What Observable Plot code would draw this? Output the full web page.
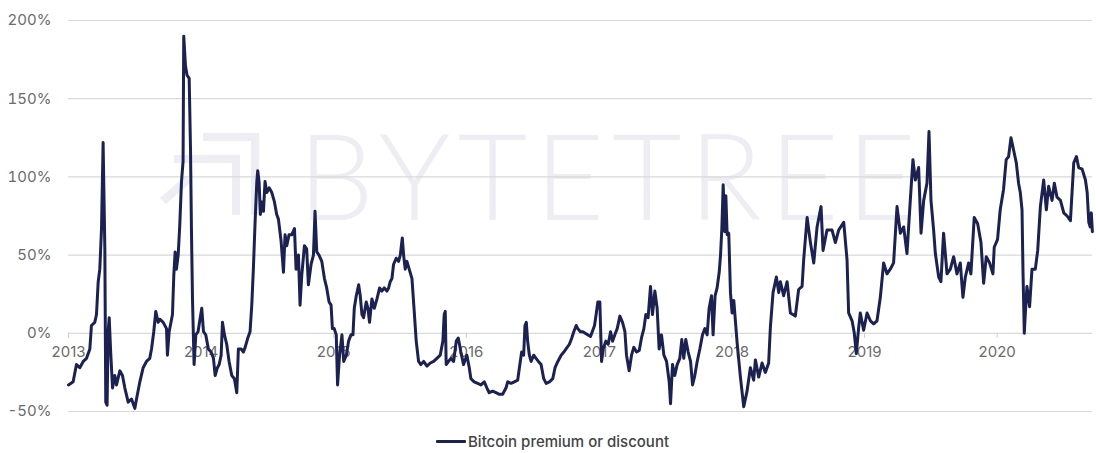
<!DOCTYPE html>
<html>
<head>
<meta charset="utf-8">
<script src="https://cdn.jsdelivr.net/npm/d3@7"></script>
<script src="https://cdn.jsdelivr.net/npm/@observablehq/plot@0.6"></script>
<style>
  body { margin: 0; background: #ffffff; font-family: Inter, "Noto Sans", sans-serif; }
  #chart { width: 1096px; height: 420px; }
  #legend { display: flex; align-items: center; height: 24px; margin-top: 9px; margin-left: 436px; }
  #legend .sw { width: 30px; height: 3px; background: #1b2150; border-radius: 1px; }
  #legend .lb { margin-left: 2px; font-size: 15px; font-weight: 500; color: #444444; }
</style>
</head>
<body>
<div id="chart"></div>
<div id="legend"><span class="sw"></span><span class="lb" id="legendLabel"></span></div>
<script>
// Each pair: [fraction of the year, premium (%)]
const y2013 = [[0.000,-33],[0.035,-31],[0.060,-20],[0.085,-22],[0.111,-18],[0.136,-16],[0.161,-10],[0.173,5],[0.198,7],[0.211,12],[0.224,33],[0.236,41],[0.249,67],[0.261,122],[0.274,54],[0.281,-44],[0.291,-46],[0.299,1],[0.307,10],[0.317,-10],[0.332,-35],[0.349,-27],[0.362,-33],[0.387,-24],[0.407,-27],[0.425,-35],[0.450,-44],[0.475,-42],[0.500,-48],[0.513,-42],[0.538,-31],[0.563,-22],[0.588,-18],[0.613,-16],[0.626,-10],[0.643,1],[0.658,14],[0.676,7],[0.688,9],[0.714,7],[0.739,3],[0.746,-14],[0.759,1],[0.784,12],[0.794,37],[0.804,52],[0.814,41],[0.827,50],[0.839,69],[0.852,97],[0.864,110],[0.869,190],[0.882,171],[0.894,165],[0.910,163],[0.920,118],[0.927,67],[0.935,22],[0.947,-20],[0.960,-1],[0.977,1],[0.988,7]];
const y2014 = [[0.005,16],[0.018,1],[0.035,-1],[0.055,-10],[0.075,-12],[0.093,-16],[0.106,-27],[0.123,-22],[0.136,-20],[0.151,-14],[0.161,7],[0.176,-1],[0.193,-7],[0.211,-18],[0.231,-27],[0.251,-29],[0.269,-38],[0.281,-10],[0.302,-10],[0.319,-12],[0.332,-9],[0.352,-3],[0.369,1],[0.382,18],[0.394,41],[0.407,71],[0.420,97],[0.427,104],[0.437,97],[0.447,76],[0.457,84],[0.470,78],[0.482,97],[0.495,90],[0.513,93],[0.533,90],[0.553,84],[0.570,76],[0.583,73],[0.603,59],[0.621,39],[0.633,63],[0.646,56],[0.663,63],[0.683,63],[0.704,67],[0.716,41],[0.734,50],[0.746,18],[0.759,37],[0.779,56],[0.796,54],[0.809,31],[0.829,44],[0.847,50],[0.859,78],[0.872,52],[0.889,50],[0.910,46],[0.930,35],[0.947,29],[0.965,20],[0.980,18],[0.990,3]];
const y2015 = [[0.004,3],[0.019,-1],[0.029,-33],[0.044,-14],[0.062,-1],[0.075,-18],[0.095,-14],[0.112,-5],[0.130,-1],[0.145,-1],[0.155,16],[0.170,24],[0.188,31],[0.200,24],[0.213,12],[0.225,10],[0.245,20],[0.258,16],[0.270,7],[0.288,22],[0.306,16],[0.326,22],[0.346,29],[0.363,27],[0.381,29],[0.401,27],[0.414,29],[0.426,33],[0.439,35],[0.451,44],[0.471,48],[0.489,46],[0.502,50],[0.517,61],[0.527,50],[0.539,41],[0.552,46],[0.569,41],[0.590,35],[0.607,14],[0.622,-5],[0.640,-18],[0.657,-20],[0.678,-18],[0.703,-21],[0.728,-19],[0.753,-18],[0.778,-16],[0.803,-14],[0.823,-5],[0.833,12],[0.841,14],[0.848,-20],[0.866,-18],[0.884,-16],[0.904,-18],[0.924,-5],[0.939,-3],[0.959,-12],[0.979,-20]];
const y2016 = [[0.004,-14],[0.022,-22],[0.034,-29],[0.059,-31],[0.085,-32],[0.110,-33],[0.135,-31],[0.155,-35],[0.172,-38],[0.198,-37],[0.223,-38],[0.248,-39],[0.273,-39],[0.298,-35],[0.311,-31],[0.336,-32],[0.361,-31],[0.386,-30],[0.399,-22],[0.416,-12],[0.431,-14],[0.441,5],[0.451,7],[0.461,-5],[0.474,-14],[0.487,-18],[0.507,-14],[0.524,-16],[0.542,-18],[0.562,-20],[0.582,-29],[0.600,-32],[0.625,-31],[0.650,-29],[0.667,-22],[0.688,-18],[0.713,-14],[0.733,-12],[0.750,-10],[0.775,-7],[0.793,-3],[0.808,1],[0.826,5],[0.838,3],[0.858,1],[0.876,1],[0.894,0],[0.914,-1],[0.934,-2],[0.951,2],[0.964,5],[0.976,12],[0.989,20]];
const y2017 = [[0.004,20],[0.017,-18],[0.029,-10],[0.049,-5],[0.067,-7],[0.085,1],[0.100,-5],[0.117,-1],[0.135,3],[0.155,11],[0.175,7],[0.193,1],[0.205,-14],[0.225,-24],[0.243,-14],[0.260,-9],[0.281,-12],[0.301,-11],[0.318,-3],[0.336,3],[0.351,12],[0.368,10],[0.386,30],[0.401,12],[0.419,27],[0.436,16],[0.451,-10],[0.469,-1],[0.487,-14],[0.507,-18],[0.527,-31],[0.537,-45],[0.552,-20],[0.569,-27],[0.587,-20],[0.607,-16],[0.622,-4],[0.637,-16],[0.652,-4],[0.670,-12],[0.688,-18],[0.703,-33],[0.720,-27],[0.738,-18],[0.758,-10],[0.778,-1],[0.796,3],[0.813,-1],[0.828,16],[0.846,24],[0.858,-1],[0.873,24],[0.888,29],[0.904,39],[0.914,50],[0.924,67],[0.934,95],[0.946,65],[0.954,88],[0.964,63],[0.976,64],[0.989,26]];
const y2018 = [[0.001,13],[0.014,21],[0.039,-6],[0.064,-28],[0.089,-47],[0.114,-37],[0.139,-22],[0.164,-30],[0.177,-17],[0.202,-28],[0.227,-19],[0.252,-25],[0.277,-19],[0.290,4],[0.310,26],[0.335,36],[0.353,26],[0.365,33],[0.390,24],[0.416,33],[0.441,13],[0.478,11],[0.503,28],[0.529,30],[0.541,47],[0.567,74],[0.592,58],[0.617,45],[0.642,68],[0.672,81],[0.687,53],[0.717,66],[0.755,66],[0.780,58],[0.805,66],[0.843,71],[0.868,47],[0.880,13],[0.906,8],[0.923,0],[0.938,-13],[0.956,4],[0.968,13],[0.993,2]];
const y2019 = [[0.019,13],[0.044,8],[0.069,6],[0.094,8],[0.119,23],[0.144,45],[0.169,38],[0.194,41],[0.219,45],[0.245,81],[0.270,64],[0.295,68],[0.320,51],[0.345,85],[0.365,111],[0.383,98],[0.408,106],[0.426,64],[0.446,85],[0.471,96],[0.486,129],[0.501,85],[0.521,66],[0.534,51],[0.559,36],[0.576,33],[0.596,64],[0.622,38],[0.647,41],[0.672,49],[0.697,38],[0.722,45],[0.742,23],[0.760,36],[0.785,45],[0.802,38],[0.827,74],[0.853,70],[0.878,58],[0.898,32],[0.918,49],[0.943,45],[0.968,38],[0.978,55]];
const y2020 = [[0.003,60],[0.023,79],[0.048,92],[0.068,111],[0.086,113],[0.104,125],[0.124,117],[0.144,109],[0.161,96],[0.174,90],[0.187,79],[0.194,41],[0.204,0],[0.212,13],[0.224,30],[0.244,17],[0.262,41],[0.287,41],[0.305,53],[0.325,81],[0.350,98],[0.370,79],[0.387,94],[0.413,85],[0.430,96],[0.450,87],[0.476,85],[0.501,77],[0.526,75],[0.551,72],[0.576,109],[0.596,113],[0.613,106],[0.639,105],[0.664,98],[0.677,90],[0.689,71],[0.700,68],[0.708,77],[0.716,65]];

const yearSeries = [[2013, y2013], [2014, y2014], [2015, y2015], [2016, y2016], [2017, y2017], [2018, y2018], [2019, y2019], [2020, y2020]];
const yTickValues = [-50, 0, 50, 100, 150, 200];
const xTickYears = [2013, 2014, 2015, 2016, 2017, 2018, 2019, 2020];
const seriesName = "Bitcoin premium or discount";
const watermarkText = "BYTETREE";
const xEnd = [2020, 0.717];

function toDate(year, frac) {
  const a = Date.UTC(year, 0, 1), b = Date.UTC(year + 1, 0, 1);
  return new Date(a + frac * (b - a));
}

const data = yearSeries.flatMap(([yr, pts]) => pts.map(([f, v]) => ({date: toDate(yr, f), value: v})));
const yearTicks = xTickYears.map(y => ({date: toDate(y, 0), label: String(y)}));

const plot = Plot.plot({
  width: 1096,
  height: 420,
  marginLeft: 68,
  marginRight: 4,
  marginTop: 20,
  marginBottom: 9,
  style: {fontFamily: "Inter, 'Noto Sans', sans-serif", fontSize: "15px", color: "#6b6b6b", background: "white"},
  x: {type: "utc", domain: [toDate(2013, 0), toDate(xEnd[0], xEnd[1])], axis: null},
  y: {domain: [-50, 200], ticks: yTickValues, tickFormat: d => `${d}%`, tickSize: 0, tickPadding: 17, label: null},
  marks: [
    Plot.ruleY(yTickValues, {stroke: "#d9d9d9", strokeWidth: 1.2}),
    Plot.ruleX(yearTicks, {x: "date", y1: () => 0, y2: () => -3.2, stroke: "#cccccc"}),
    Plot.text(yearTicks, {x: "date", y: () => 0, text: "label", dy: 19, fill: "#6b6b6b", fontSize: 15}),
    Plot.line(data, {x: "date", y: "value", stroke: "#1b2150", strokeWidth: 3, strokeLinejoin: "round"})
  ]
});

// faint watermark behind the marks
const svg = d3.select(plot);
const wm = svg.insert("g", "g");
const wmColor = "#ededf3";
wm.append("path")
  .attr("d", "M203,133 H259 V215 H251 V141 H203 Z M174,155 H240 V215 H232 V163 H174 Z M160,198 L185,176 L191,182 L166,204 Z")
  .attr("fill", wmColor);
wm.append("text")
  .attr("x", 298).attr("y", 220)
  .attr("text-anchor", "start")
  .attr("font-family", "Lato, Inter, sans-serif")
  .attr("font-weight", 300)
  .attr("font-size", 120)
  .attr("fill", wmColor)
  .attr("textLength", 618)
  .attr("lengthAdjust", "spacing")
  .text(watermarkText);

document.getElementById("chart").appendChild(plot);
document.getElementById("legendLabel").textContent = seriesName;
</script>
</body>
</html>
